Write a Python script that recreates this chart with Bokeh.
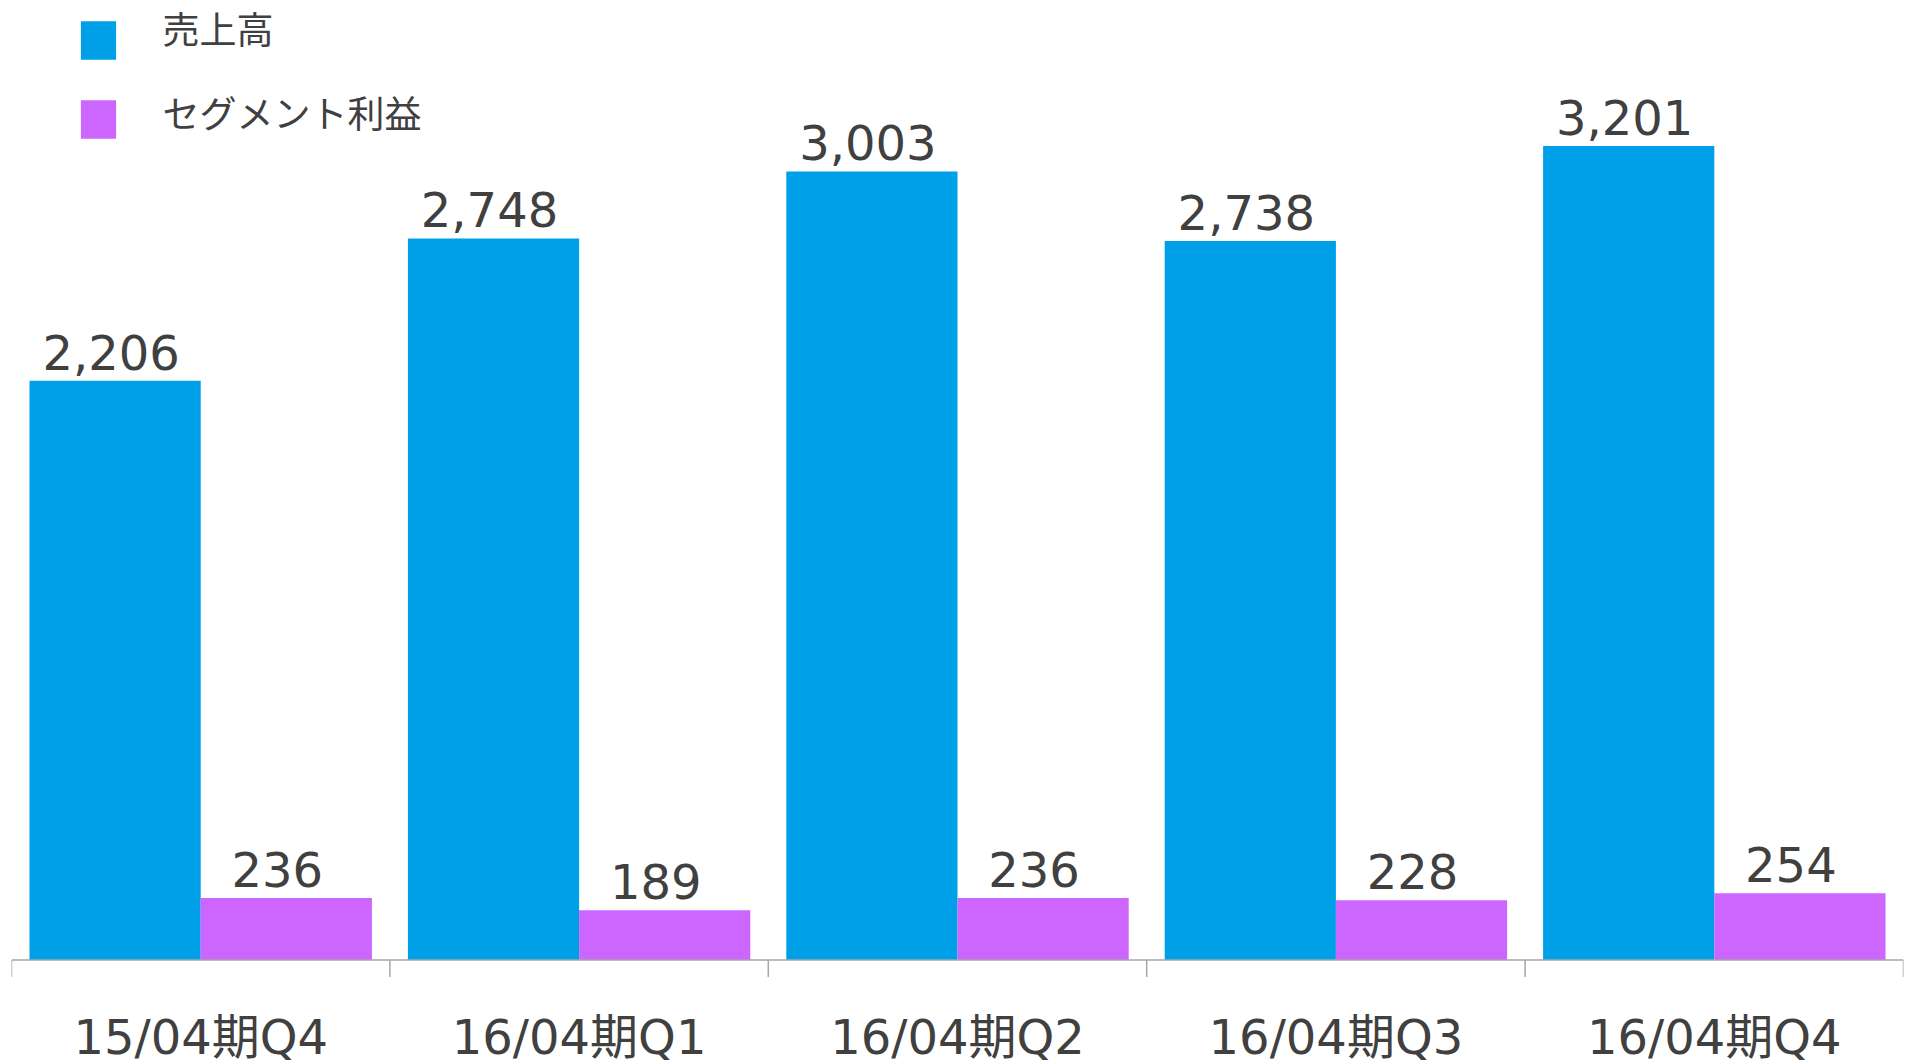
import numpy as np
from bokeh.plotting import figure
from bokeh.models import (ColumnDataSource, Range1d, Span, LabelSet, Label,
                          Legend, LegendItem)
from bokeh.transform import dodge
from bokeh.core.properties import value
from bokeh.embed import file_html
from bokeh.resources import INLINE

# ---- data ----
categories = ["15/04期Q4", "16/04期Q1", "16/04期Q2", "16/04期Q3", "16/04期Q4"]
sales = [2206, 2748, 3003, 2738, 3201]
segment_profit = [236, 189, 236, 228, 254]
series_names = ["売上高", "セグメント利益"]

# ---- style / layout ----
Y_CAP = 3100            # value axis maximum of the original chart (tallest bar is cut there)
BLUE = "#00A0E9"
PURPLE = "#CC66FF"
TEXT = "#404040"
AXIS = "#A6A6A6"
FONT = "'DejaVu Sans', 'Noto Sans CJK JP'"
CJK = "Noto Sans CJK JP"
HALF = 0.2262
W = 0.4525

PLOT_W, PLOT_H = 1906, 1064
FRAME_LEFT = 11
BASE_PX = 959.5          # screen y of the zero line
PX_PER_UNIT = 814.0 / Y_CAP
y_start = -(PLOT_H - BASE_PX) / PX_PER_UNIT
y_end = BASE_PX / PX_PER_UNIT

n = len(categories)
center = np.arange(n) + 0.5
src = ColumnDataSource(dict(
    x=center,
    cat=categories,
    sales_top=np.minimum(sales, Y_CAP),
    profit_top=np.minimum(segment_profit, Y_CAP),
    sales_lbl=[f"{v:,}" for v in sales],
    profit_lbl=[f"{v:,}" for v in segment_profit],
    zero=[0] * n,
))
bounds = ColumnDataSource(dict(x=np.arange(n + 1), y=[0] * (n + 1)))

p = figure(width=PLOT_W, height=PLOT_H,
           x_range=Range1d(0, n), y_range=Range1d(y_start, y_end),
           output_backend="svg", toolbar_location=None,
           x_axis_type=None, y_axis_type=None,
           min_border_left=FRAME_LEFT, min_border_right=PLOT_W - FRAME_LEFT - 1892,
           min_border_top=0, min_border_bottom=0,
           outline_line_color=None, background_fill_color="white",
           border_fill_color="white")

r1 = p.vbar(x=dodge("x", -HALF), top="sales_top", width=W, source=src,
            fill_color=BLUE, line_color=None)
r2 = p.vbar(x=dodge("x", HALF), top="profit_top", width=W, source=src,
            fill_color=PURPLE, line_color=None)

# category axis: base line + boundary ticks
p.add_layout(Span(location=0, dimension="width", line_color=AXIS, line_width=1.5))
p.ray(x="x", y="y", length=17, length_units="screen", angle=-np.pi / 2,
      source=bounds, line_color=AXIS, line_width=1.5)

lbl_kw = dict(source=src, text_align="center", text_font_size="48px",
              text_color=TEXT, text_font=value(FONT))
p.add_layout(LabelSet(x=dodge("x", -HALF), y="sales_top", text="sales_lbl",
                      x_offset=-4, y_offset=11, text_baseline="alphabetic", **lbl_kw))
p.add_layout(LabelSet(x=dodge("x", HALF), y="profit_top", text="profit_lbl",
                      x_offset=-9, y_offset=11, text_baseline="alphabetic", **lbl_kw))
p.add_layout(LabelSet(x="x", y="zero", text="cat",
                      y_offset=-77, text_baseline="middle", **lbl_kw))

# legend: swatches from a Legend, texts as labels (text sits higher than swatch)
legend = Legend(items=[LegendItem(label=value(""), renderers=[r1]),
                       LegendItem(label=value(""), renderers=[r2])],
                location=(76 - FRAME_LEFT, PLOT_H - 143), orientation="vertical",
                glyph_width=44, glyph_height=48, label_height=48, label_width=0,
                spacing=31, padding=0, margin=0, label_standoff=0,
                label_text_font_size="1px",
                border_line_color=None, background_fill_color=None)
p.add_layout(legend, "center")

for name, cy in zip(series_names, [27.5, 111]):
    p.add_layout(Label(x=162 - FRAME_LEFT, y=PLOT_H - cy, x_units="screen", y_units="screen",
                       text=name, text_font=CJK, text_font_size="37px",
                       text_color=TEXT, text_baseline="middle", text_align="left"))

open("out.html", "w").write(file_html(p, INLINE))
